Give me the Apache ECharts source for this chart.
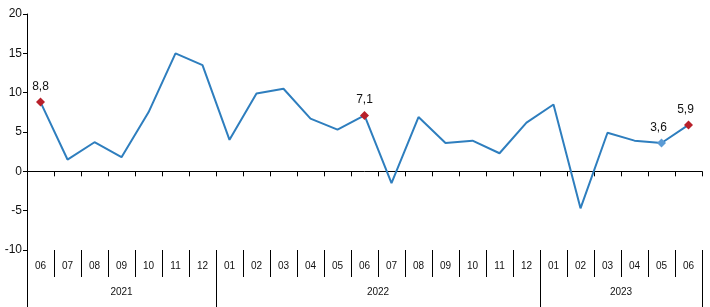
<!DOCTYPE html>
<html>
<head>
<meta charset="utf-8">
<script src="https://cdn.jsdelivr.net/npm/echarts@6/dist/echarts.min.js"></script>
<style>html,body{margin:0;padding:0;background:#fff}#c{width:710px;height:307px}</style>
</head>
<body>
<div id="c"></div>
<script>
const months = ['06','07','08','09','10','11','12','01','02','03','04','05','06','07','08','09','10','11','12','01','02','03','04','05','06'];
const years = ['2021','2022','2023'];
const values = [8.8,1.5,3.7,1.8,7.5,15.0,13.5,4.0,9.9,10.5,6.7,5.3,7.1,-1.5,6.9,3.6,3.9,2.3,6.2,8.5,-4.7,4.9,3.9,3.6,5.9];
const redIdx = [0,12,24];
const blueIdx = [23];
const yTicks = {min:-10, max:20, interval:5};

const yearBounds = [0];
months.forEach((m,i)=>{ if (m==='01') yearBounds.push(i); });
yearBounds.push(months.length);
const yearCenters = years.map((y,i)=>(yearBounds[i]+yearBounds[i+1])/2);

const font = 'Liberation Sans, Arial, sans-serif';
const red = '#B8202A', lightBlue = '#5B9BD5', lineColor = '#2E7EBE';

const seriesData = values.map((v,i)=>{
  const d = {value:v};
  if (redIdx.includes(i) || blueIdx.includes(i)) {
    d.symbol = 'diamond';
    d.symbolSize = 9;
    d.itemStyle = {color: redIdx.includes(i) ? red : lightBlue};
    d.label = {show:true, position:'top', distance:5, offset:[i>=23?-3:0,0],
      formatter: p => String(p.value).replace('.', ','),
      fontSize:12, fontFamily:font, color:'#111'};
  }
  return d;
});

const gridBox = {left:27, right:8, top:14, bottom:57};
const chart = echarts.init(document.getElementById('c'));
chart.setOption({
  animation:false,
  grid:[Object.assign({},gridBox),Object.assign({},gridBox),Object.assign({},gridBox)],
  xAxis:[
    {gridIndex:0, type:'category', data:months, boundaryGap:true,
     axisLine:{onZero:true, lineStyle:{color:'#000', width:1}},
     axisTick:{show:true, length:5, lineStyle:{color:'#000'}},
     axisLabel:{show:false}},
    {gridIndex:1, type:'category', data:months, boundaryGap:true, position:'bottom',
     axisLine:{show:false, onZero:false},
     axisTick:{show:true, length:27, lineStyle:{color:'#000'}},
     axisLabel:{show:true, margin:11, fontSize:10, fontFamily:font, color:'#111'}},
    {gridIndex:2, type:'value', min:0, max:months.length, position:'bottom',
     splitLine:{show:false},
     axisLine:{show:false, onZero:false},
     axisTick:{show:true, length:57, customValues:yearBounds, lineStyle:{color:'#000'}},
     axisLabel:{show:true, margin:37, fontSize:10, fontFamily:font, color:'#111',
       customValues:yearCenters,
       formatter: v => { const k = yearCenters.findIndex(c=>Math.abs(c-v)<1e-6); return k>=0?years[k]:''; }}}
  ],
  yAxis:[
    {gridIndex:0, type:'value', min:yTicks.min, max:yTicks.max, interval:yTicks.interval,
     splitLine:{show:false},
     axisLine:{show:true, lineStyle:{color:'#000'}},
     axisTick:{show:true, length:4, lineStyle:{color:'#000'}},
     axisLabel:{margin:5, fontSize:12, fontFamily:font, color:'#111'}},
    {gridIndex:1, type:'value', min:yTicks.min, max:yTicks.max, show:false},
    {gridIndex:2, type:'value', min:yTicks.min, max:yTicks.max, show:false}
  ],
  series:[{
    type:'line', xAxisIndex:0, yAxisIndex:0, data:seriesData,
    symbol:'none', showSymbol:true, showAllSymbol:true,
    lineStyle:{color:lineColor, width:2},
    itemStyle:{color:lineColor},
    z:3
  }]
});
</script>
</body>
</html>
